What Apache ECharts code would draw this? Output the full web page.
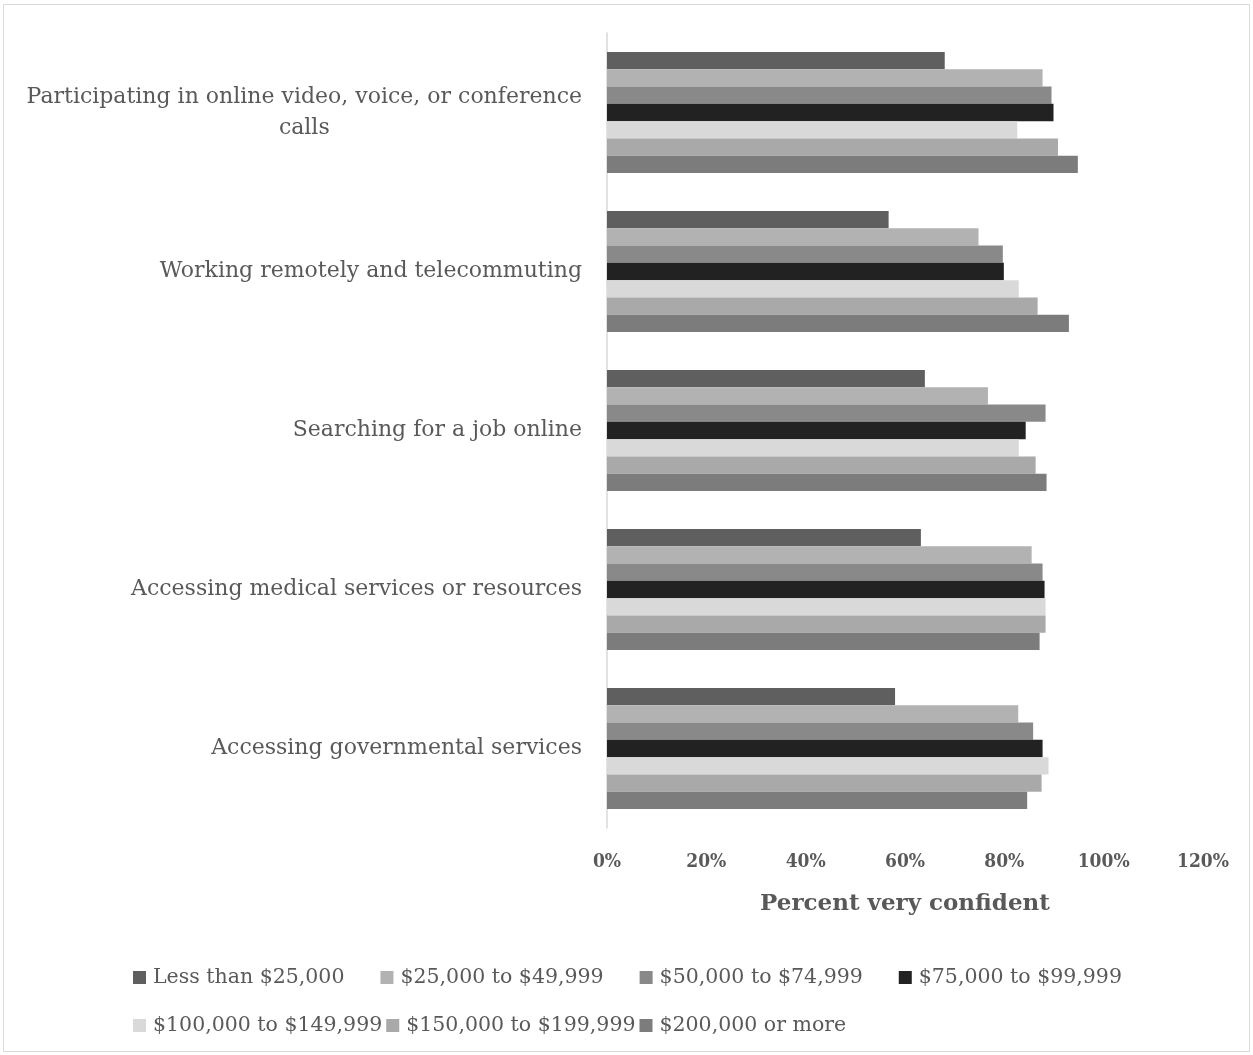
<!DOCTYPE html>
<html>
<head>
<meta charset="utf-8">
<script src="https://cdn.jsdelivr.net/npm/echarts@6/dist/echarts.min.js"></script>
<style>
  html, body { margin: 0; padding: 0; background: #fff; }
  #chart { width: 1253px; height: 1055px; }
</style>
</head>
<body>
<div id="chart"></div>
<script>
const categories = [
  'Participating in online video, voice, or conference\ncalls',
  'Working remotely and telecommuting',
  'Searching for a job online',
  'Accessing medical services or resources',
  'Accessing governmental services'
];
const seriesNames = [
  'Less than $25,000',
  '$25,000 to $49,999',
  '$50,000 to $74,999',
  '$75,000 to $99,999',
  '$100,000 to $149,999',
  '$150,000 to $199,999',
  '$200,000 or more'
];
const colors = ['#5f5f5f', '#b2b2b2', '#898989', '#222222', '#d9d9d9', '#a9a9a9', '#7c7c7c'];

// one array per income bracket, in category order (percent)
const lessThan25k = [68.0, 56.7, 64.0, 63.2, 58.0];
const from25kTo50k = [87.7, 74.8, 76.7, 85.5, 82.8];
const from50kTo75k = [89.5, 79.7, 88.3, 87.7, 85.8];
const from75kTo100k = [89.9, 79.9, 84.3, 88.1, 87.7];
const from100kTo150k = [82.6, 82.9, 82.9, 88.3, 88.9];
const from150kTo200k = [90.8, 86.7, 86.3, 88.3, 87.5];
const over200k = [94.8, 93.0, 88.5, 87.1, 84.6];
const seriesValues = [lessThan25k, from25kTo50k, from50kTo75k, from75kTo100k, from100kTo150k, from150kTo200k, over200k];

const xTicks = [0, 20, 40, 60, 80, 100, 120];

const font = "'Roboto Slab', 'DejaVu Serif', serif";
const condensed = "'Roboto Slab', 'DejaVu Serif Condensed', 'DejaVu Serif', serif";
const textColor = '#595959';

const chart = echarts.init(document.getElementById('chart'));

const legendBase = {
  icon: 'rect',
  itemWidth: 13,
  itemHeight: 13,
  left: 128,
  textStyle: { fontFamily: font, fontSize: 20.5, color: textColor, padding: [0, 0, 0, 2] },
  selectedMode: false
};

chart.setOption({
  animation: false,
  color: colors,
  graphic: [{
    type: 'rect',
    shape: { x: 3.5, y: 4.5, width: 1246, height: 1047 },
    style: { fill: 'none', stroke: '#d9d9d9', lineWidth: 1 },
    silent: true
  }],
  grid: { left: 607, right: 50, top: 33, height: 795 },
  legend: [
    Object.assign({}, legendBase, { top: 962, itemGap: 36, data: seriesNames.slice(0, 4) }),
    Object.assign({}, legendBase, { top: 1010, itemGap: 4, data: seriesNames.slice(4) })
  ],
  xAxis: {
    type: 'value',
    min: xTicks[0],
    max: xTicks[xTicks.length - 1],
    interval: 20,
    splitLine: { show: false },
    axisLine: { show: false },
    axisTick: { show: false },
    axisLabel: {
      formatter: v => v + '%',
      fontFamily: condensed,
      fontSize: 19,
      fontWeight: 'bold',
      color: textColor,
      margin: 25
    },
    name: 'Percent very confident',
    nameLocation: 'middle',
    nameGap: 65,
    nameTextStyle: { fontFamily: font, fontSize: 23, fontWeight: 'bold', color: textColor }
  },
  yAxis: {
    type: 'category',
    data: categories,
    inverse: true,
    axisLine: { show: true, lineStyle: { color: '#d9d9d9', width: 1.5 } },
    axisTick: { show: false },
    axisLabel: {
      margin: 25,
      fontFamily: font,
      fontSize: 22,
      color: textColor,
      lineHeight: 31,
      formatter: v => v.split('\n').map(s => '{c|' + s + '}').join('\n'),
      rich: {
        c: { align: 'center', fontFamily: font, fontSize: 22, color: textColor, lineHeight: 31 }
      }
    }
  },
  series: seriesNames.map((name, i) => ({
    name: name,
    type: 'bar',
    data: seriesValues[i],
    barGap: 0,
    barCategoryGap: '24%',
    itemStyle: { color: colors[i] }
  }))
});
</script>
</body>
</html>
